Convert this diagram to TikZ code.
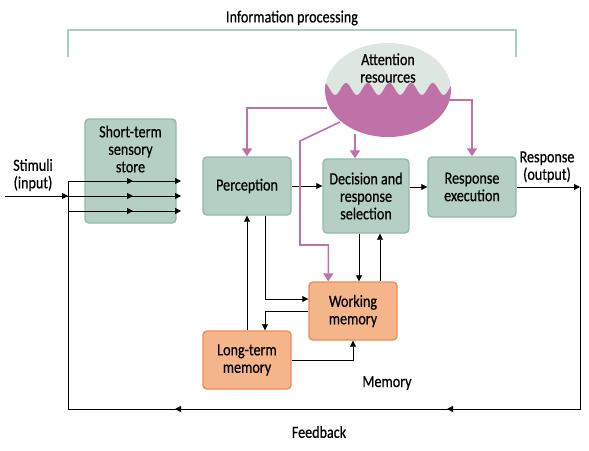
\documentclass[tikz,border=0pt]{standalone}
\usepackage{fontspec}
\setmainfont{Carlito}[FakeStretch=0.83, FakeBold=0.5]
\usepackage{tikz}
\usetikzlibrary{arrows.meta, decorations.markings, calc}
\definecolor{boxG}{RGB}{182,207,196}
\definecolor{edgeG}{RGB}{143,187,167}
\definecolor{boxO}{RGB}{245,181,139}
\definecolor{edgeO}{RGB}{236,140,86}
\definecolor{attP}{RGB}{192,114,168}
\definecolor{attT}{RGB}{221,230,225}
\definecolor{brk}{RGB}{168,207,194}
\tikzset{
  lbl/.style={align=center, font=\fontsize{17}{17.5}\selectfont},
  gbox/.style={lbl, draw=edgeG, fill=boxG, line width=1.4pt, rounded corners=4pt, inner sep=2pt},
  obox/.style={lbl, draw=edgeO, fill=boxO, line width=1.4pt, rounded corners=4pt, inner sep=2pt},
  arr/.style={-{Triangle[width=6pt,length=6pt]}, line width=0.8pt},
  parr/.style={attP, line width=1.6pt, -{Triangle[width=10pt,length=8pt]}},
  tipat/.style={postaction={decorate}, decoration={markings,
    mark=at position #1 with {\arrow{Triangle[width=6pt,length=6pt]}}}},
  tiptwo/.style 2 args={postaction={decorate}, decoration={markings,
    mark=at position #1 with {\arrow{Triangle[width=6pt,length=6pt]}},
    mark=at position #2 with {\arrow{Triangle[width=6pt,length=6pt]}}}}
}
\begin{document}
\begin{tikzpicture}[x=1pt, y=-1pt]
\useasboundingbox (0,0) rectangle (589,450);
% ====== bracket over the processing stages ======
\node[lbl] (ttl) at (292,18) {Information processing};
\draw[brk, line width=1.2pt] (68,57) |- (516,30) -- (516,57);
% ====== attention resources ======
\begin{scope}
\clip (388,90) ellipse (63pt and 47pt);
\fill[attT] (388,90) ellipse (63pt and 47pt);
\fill[attP] plot[domain=320:460, samples=140] (\x, {89-6*cos(16.59*(\x-346))}) -- (460,140) -- (320,140) -- cycle;
\end{scope}
\node[lbl] (att) at (388,68) {Attention\\resources};
\coordinate (attL) at (327,108);
\coordinate (attD) at (340,122);
\coordinate (attB) at (355,134);
\coordinate (attR) at (449,100);
% ====== stages ======
\node[gbox, minimum width=91pt, minimum height=104pt] (sens) at (130.5,171) {};
\node[lbl] (senslbl) at (130.5,149) {Short-term\\sensory\\store};
\node[gbox, minimum width=88pt, minimum height=58pt] (perc) at (247,186) {Perception};
\node[gbox, minimum width=86pt, minimum height=74pt] (dec) at (366,196) {Decision and\\response\\selection};
\node[gbox, minimum width=88pt, minimum height=60pt] (resp) at (472,187) {Response\\execution};
\node[obox, minimum width=88pt, minimum height=58pt] (wm) at (353,311) {Working\\memory};
\node[obox, minimum width=88pt, minimum height=58pt] (ltm) at (247,360) {Long-term\\memory};
% ====== free labels ======
\node[lbl] (stim) at (33,175) {Stimuli\\(input)};
\node[lbl] (outlbl) at (547,167) {Response\\(output)};
\node[lbl] (mem) at (387,383) {Memory};
\node[lbl] (fbk) at (319,432) {Feedback};
% ====== input lines through the sensory store ======
\coordinate (inT) at (68,181);
\coordinate (outR) at (580,187);
\draw[arr, tipat=65pt] (inT) -- (181,181);
\draw[arr, tiptwo={63pt}{128pt}] (5,196) -- (181,196);
\draw[arr, tipat=65pt] (68,211) -- (181,211);
% ====== main flow ======
\draw[arr] (perc.east) -- (perc.east -| dec.west);
\draw[arr] (dec.east |- resp.west) -- (resp.west);
\draw[arr] (resp.east) -- (outR);
% ====== feedback loop ======
\draw[line width=0.8pt, tiptwo={355pt}{627pt}] (outR) -- (outR |- 0,409) -- (inT |- 0,409) -- (inT);
% ====== memory links ======
\draw[arr] ([xshift=18pt]perc.south) |- ([yshift=12pt]wm.west);
\draw[arr] (ltm.north) -- (perc.south);
\draw[arr] (wm.west) -| ([xshift=18pt]ltm.north);
\draw[arr] (ltm.east) -| (wm.south);
\draw[arr] ([xshift=-7pt]dec.south) -- ([xshift=-7pt]dec.south |- wm.north);
\draw[arr] ([xshift=14pt]dec.south |- wm.north) -- ([xshift=14pt]dec.south);
% ====== attention links ======
\draw[parr] (attL) -| (perc.north);
\draw[parr] (attD) -- (300,141) -- (300,245) -| ([xshift=20pt]wm.north west);
\draw[parr] (attB) -- (attB |- dec.north);
\draw[parr] (attR) -| (resp.north);
\end{tikzpicture}
\end{document}
